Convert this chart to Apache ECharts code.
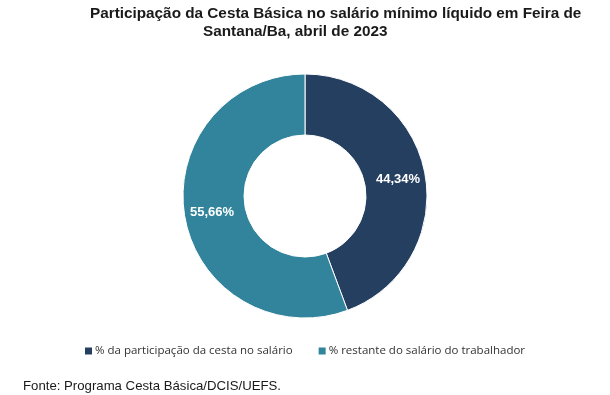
<!DOCTYPE html>
<html>
<head>
<meta charset="utf-8">
<script src="https://cdn.jsdelivr.net/npm/echarts@6/dist/echarts.min.js"></script>
<style>
html,body{margin:0;padding:0;background:#fff;}
#chart{width:610px;height:395px;}
</style>
</head>
<body>
<div id="chart"></div>
<script>
var titleLines = ["Participação da Cesta Básica no salário mínimo líquido em Feira de", "Santana/Ba, abril de 2023"];
var categories = ["% da participação da cesta no salário", "% restante do salário do trabalhador"];
var values = [44.34, 55.66];
var colors = ["#243F60", "#31849B"];
var sourceText = "Fonte: Programa Cesta Básica/DCIS/UEFS.";

var chart = echarts.init(document.getElementById('chart'), null, {renderer: 'canvas'});
chart.setOption({
  backgroundColor: '#ffffff',
  animation: false,
  title: [
    {text: titleLines[0], left: 85, top: 1, textStyle: {fontFamily: 'Liberation Sans', fontSize: 15.3, fontWeight: 'bold', color: '#1a1a1a'}},
    {text: titleLines[1], left: 198, top: 19, textStyle: {fontFamily: 'Liberation Sans', fontSize: 15.3, fontWeight: 'bold', color: '#1a1a1a'}},
    {text: sourceText, left: 18, top: 375, textStyle: {fontFamily: 'Liberation Sans', fontSize: 13.2, fontWeight: 'normal', color: '#1a1a1a'}}
  ],
  legend: {
    data: categories,
    left: 78,
    top: 340,
    icon: 'rect',
    itemWidth: 9,
    itemHeight: 9,
    itemGap: 24,
    textStyle: {fontFamily: 'Open Sans', fontSize: 11.5, color: '#333', padding: [0, 0, 0, -3]}
  },
  series: [{
    type: 'pie',
    center: [305, 196],
    radius: [61, 122],
    startAngle: 90,
    clockwise: true,
    itemStyle: {borderColor: '#ffffff', borderWidth: 1},
    label: {
      show: true,
      position: 'inside',
      formatter: function (p) { return p.value.toFixed(2).replace('.', ',') + '%'; },
      fontFamily: 'Liberation Sans',
      fontSize: 13,
      fontWeight: 'bold',
      color: '#ffffff'
    },
    labelLine: {show: false},
    data: categories.map(function (c, i) { return {name: c, value: values[i], itemStyle: {color: colors[i]}}; })
  }]
});
</script>
</body>
</html>
